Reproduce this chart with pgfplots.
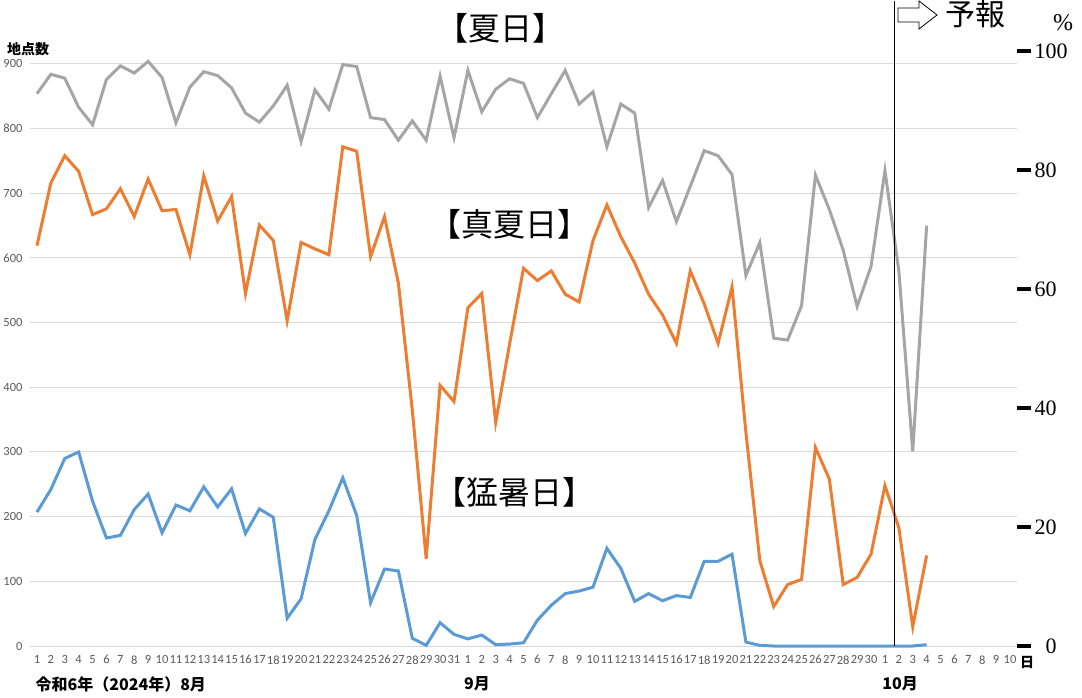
\documentclass[border=0pt]{standalone}
\usepackage{pgfplots}
\usepackage{pgfplotstable}
\pgfplotsset{compat=1.18}
\usepackage{fontspec}
\setmainfont{Liberation Serif}
\newfontfamily\cjk{Noto Sans CJK JP}
\newfontfamily\calib{Carlito}

\definecolor{natsu}{HTML}{A5A5A5}
\definecolor{manatsu}{HTML}{ED7D31}
\definecolor{mosho}{HTML}{5B9BD5}
\definecolor{gridc}{HTML}{D9D9D9}
\definecolor{ticktxt}{HTML}{595959}

% i = day index (0 = Aug 1, 31 = Sep 1, 61 = Oct 1)
\pgfplotstableread{
i natsu manatsu mosho
0 854 619 207
1 884 716 242
2 878 758 290
3 833 734 300
4 806 667 224
5 876 676 167
6 897 707 171
7 886 664 211
8 904 722 235
9 879 673 175
10 809 675 218
11 864 605 209
12 888 727 246
13 882 657 215
14 863 695 243
15 824 545 174
16 810 651 212
17 835 627 199
18 867 503 43
19 780 624 73
20 860 614 165
21 830 605 209
22 899 772 260
23 896 765 202
24 817 602 67
25 814 664 119
26 782 561 116
27 812 365 12
28 782 135 1
29 881 403 36
30 786 378 18
31 890 523 11
32 826 545 17
33 861 346 2
34 877 467 3
35 870 584 5
36 817 565 40
37 854 580 63
38 890 544 81
39 838 532 85
40 857 627 91
41 772 682 151
42 838 633 120
43 824 592 69
44 678 544 81
45 720 512 70
46 656 468 78
47 711 580 75
48 766 529 131
49 758 468 131
50 729 555 142
51 573 330 6
52 624 132 1
53 476 61 0
54 473 95 0
55 526 103 0
56 728 307 0
57 675 258 0
58 612 95 0
59 525 106 0
60 587 142 0
61 735 248 0
62 580 183 0
63 301 30 0
64 650 140 2
}\days

\begin{document}
\begin{tikzpicture}
\begin{axis}[
  name=main, scale only axis,
  width=987pt, height=595pt,
  xmin=-0.5, xmax=70.5, ymin=0, ymax=920,
  axis line style={draw=none}, tick style={draw=none},
  ymajorgrids, grid style={gridc, line width=1pt},
  ytick={0,100,...,900},
  yticklabels={0,100,200,300,400,500,600,700,800,900},
  yticklabel style={font=\calib\fontsize{12.5}{12.5}\selectfont, text=ticktxt, xshift=-4pt},
  xtick={0,...,70},
  xticklabels={1,2,3,4,5,6,7,8,9,10,11,12,13,14,15,16,17,18,19,20,21,22,23,24,25,26,27,28,29,30,31,
    1,2,3,4,5,6,7,8,9,10,11,12,13,14,15,16,17,18,19,20,21,22,23,24,25,26,27,28,29,30,
    1,2,3,4,5,6,7,8,9,10},
  xticklabel style={font=\calib\fontsize{12.5}{12.5}\selectfont, text=ticktxt, yshift=-6pt},
  clip=false,
]
\addplot[natsu, line width=3pt] table[x=i, y=natsu] {\days};
\addplot[manatsu, line width=3pt] table[x=i, y=manatsu] {\days};
\addplot[mosho, line width=3pt] table[x=i, y=mosho] {\days};
\draw[black, line width=1pt] (axis cs:61.7,0) -- (axis cs:61.7,997);
\coordinate (O) at (rel axis cs:0,0);
\end{axis}
\begin{axis}[
  scale only axis,
  width=987pt, height=595pt,
  xmin=-0.5, xmax=70.5, ymin=0, ymax=100,
  axis x line=none, axis y line*=right,
  y axis line style={draw=none},
  ytick={0,20,...,100}, yticklabels={\phantom{0}0,20,40,60,80,100},
  tick align=outside, major tick length=14pt,
  ytick style={black, line width=3.5pt},
  yticklabel style={font=\fontsize{22}{22}\selectfont, anchor=west},
]
\end{axis}
% annotations, in picture pixels measured from the lower-left corner
\begin{scope}[shift={(O)}, xshift=-30pt, yshift=-51pt, x=1pt, y=1pt]
\node[font=\cjk\fontsize{32}{32}\selectfont] at (500,669) {【夏日】};
\node[font=\cjk\fontsize{32}{32}\selectfont] at (509,473) {【真夏日】};
\node[font=\cjk\fontsize{32}{32}\selectfont] at (514,205) {【猛暑日】};
\node[font=\cjk\bfseries\fontsize{14}{14}\selectfont] at (28,648) {地点数};
\node[font=\cjk\fontsize{30}{30}\selectfont] at (975,683) {予報};
\node[font=\fontsize{24}{24}\selectfont] at (1063,674) {\%};
\node[font=\cjk\bfseries\fontsize{14}{14}\selectfont] at (1027,35) {日};
\node[font=\cjk\bfseries\fontsize{16}{16}\selectfont, anchor=west] at (32,13) {令和6年（2024年）8月};
\node[font=\cjk\bfseries\fontsize{16}{16}\selectfont] at (477,13) {9月};
\node[font=\cjk\bfseries\fontsize{16}{16}\selectfont] at (900,13) {10月};
\draw[black, line width=0.8pt, fill=white]
  (898,675) -- (919,675) -- (919,668) -- (937,682) -- (919,696) -- (919,689) -- (898,689) -- cycle;
\pgfresetboundingbox
\path[use as bounding box] (0,0) rectangle (1082,697);
\end{scope}
\end{tikzpicture}
\end{document}
